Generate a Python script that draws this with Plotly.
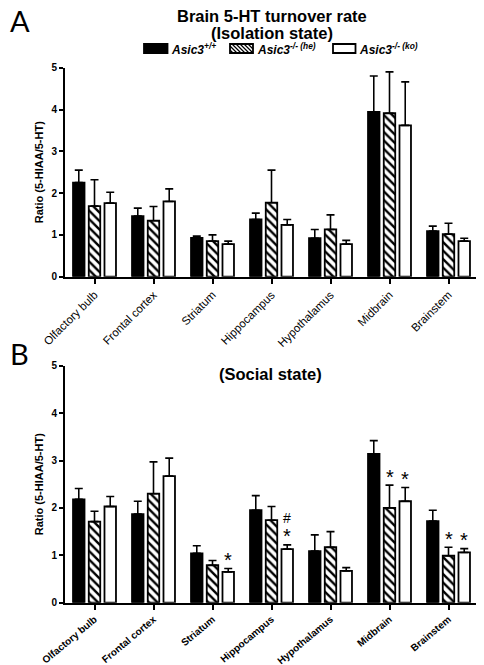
import plotly.graph_objects as go

regions = ["Olfactory bulb", "Frontal cortex", "Striatum", "Hippocampus",
           "Hypothalamus", "Midbrain", "Brainstem"]
genotypes = ["Asic3<sup>+/+</sup>", "Asic3<sup>-/- (he)</sup>", "Asic3<sup>-/- (ko)</sup>"]

# Panel A: isolation state
iso_wt = [2.25, 1.45, 0.93, 1.37, 0.92, 3.94, 1.09]
iso_wt_err = [0.30, 0.19, 0.04, 0.15, 0.21, 0.86, 0.12]
iso_he = [1.69, 1.34, 0.85, 1.77, 1.13, 3.91, 1.02]
iso_he_err = [0.63, 0.34, 0.15, 0.78, 0.35, 0.99, 0.26]
iso_ko = [1.76, 1.80, 0.78, 1.24, 0.78, 3.62, 0.85]
iso_ko_err = [0.26, 0.30, 0.07, 0.13, 0.09, 1.04, 0.07]

# Panel B: social state
soc_wt = [2.18, 1.87, 1.04, 1.95, 1.09, 3.14, 1.72]
soc_wt_err = [0.23, 0.27, 0.16, 0.31, 0.34, 0.28, 0.23]
soc_he = [1.71, 2.30, 0.79, 1.74, 1.17, 2.00, 0.99]
soc_he_err = [0.22, 0.67, 0.10, 0.29, 0.33, 0.48, 0.18]
soc_ko = [2.03, 2.67, 0.65, 1.13, 0.67, 2.14, 1.06]
soc_ko_err = [0.21, 0.38, 0.07, 0.09, 0.07, 0.29, 0.08]

# significance marks in panel B: (region index, genotype index, label)
sig_marks = [(2, 2, "*"), (3, 2, "*"), (3, 2, "#"), (5, 1, "*"), (5, 2, "*"),
             (6, 1, "*"), (6, 2, "*")]

OFF = 8                      # page body margin
W, H = 484 - OFF, 665 - OFF  # figure size
ARIAL = "Liberation Sans, Arial, sans-serif"

def py(p):  # window pixel y -> paper
    return 1 - (p - OFF) / H

def px(p):  # window pixel x -> paper
    return (p - OFF) / W

styles = [
    dict(color="black", pattern=dict(shape="")),
    dict(color="white", pattern=dict(shape="\\", fgcolor="black", bgcolor="white",
                                     size=6, solidity=0.4, fillmode="replace")),
    dict(color="white", pattern=dict(shape="")),
]

fig = go.Figure()
panels = [
    ("x", "y", [iso_wt, iso_he, iso_ko], [iso_wt_err, iso_he_err, iso_ko_err]),
    ("x2", "y2", [soc_wt, soc_he, soc_ko], [soc_wt_err, soc_he_err, soc_ko_err]),
]
for xa, ya, vals, errs in panels:
    for g in range(3):
        fig.add_trace(go.Bar(
            x=regions, y=vals[g], xaxis=xa, yaxis=ya, name=genotypes[g],
            showlegend=False,
            marker=dict(color=styles[g]["color"], pattern=styles[g]["pattern"],
                        line=dict(color="black", width=1.8)),
            error_y=dict(type="data", array=errs[g], arrayminus=[0] * len(regions),
                         symmetric=False, color="black", thickness=1.6, width=4),
        ))

bargap = 0.2
slot = (1 - bargap) / 3

common_x = dict(type="category", categoryorder="array", categoryarray=regions,
                range=[-0.5, 6.5], showline=True, linecolor="black", linewidth=2,
                ticks="outside", ticklen=5, tickwidth=1.8, tickcolor="black",
                showgrid=False, zeroline=False, automargin=False,
                domain=[px(65), px(478)])
common_y = dict(range=[0, 5], dtick=1, showline=True, linecolor="black", linewidth=2,
                ticks="outside", ticklen=4, tickwidth=1.8, tickcolor="black",
                showgrid=False, zeroline=False, automargin=False,
                tickfont=dict(family=ARIAL, size=10, color="black", weight="bold"),
                title=dict(text="<b>Ratio (5-HIAA/5-HT)</b>",
                           font=dict(family=ARIAL, size=11, color="black"), standoff=6))

fig.update_layout(
    width=W, height=H, margin=dict(l=0, r=0, t=0, b=0, autoexpand=False),
    plot_bgcolor="white", paper_bgcolor="white",
    barmode="group", bargap=bargap, bargroupgap=0.27, showlegend=False,
    xaxis=dict(common_x, anchor="y", tickangle=-45,
               tickfont=dict(family=ARIAL, size=11.5, color="black")),
    yaxis=dict(common_y, anchor="x", domain=[py(276.7), py(67.7)]),
    xaxis2=dict(common_x, anchor="y2", tickangle=-40,
                tickfont=dict(family=ARIAL, size=10, color="black", weight="bold")),
    yaxis2=dict(common_y, anchor="x2", domain=[py(602.7), py(365.7)]),
)

ann = []
# panel letters
ann.append(dict(text="A", x=px(8), y=py(20), xref="paper", yref="paper", xanchor="left",
                yanchor="middle", showarrow=False, font=dict(family="Lato", size=29, color="black")))
ann.append(dict(text="B", x=px(8), y=py(353), xref="paper", yref="paper", xanchor="left",
                yanchor="middle", showarrow=False, font=dict(family="Lato", size=29, color="black")))
# titles
ann.append(dict(text="<b>Brain 5-HT turnover rate</b>", x=px(272), y=py(16), xref="paper",
                yref="paper", yanchor="middle", showarrow=False,
                font=dict(family=ARIAL, size=16.5, color="black")))
ann.append(dict(text="<b>(Isolation state)</b>", x=px(272), y=py(33), xref="paper",
                yref="paper", yanchor="middle", showarrow=False,
                font=dict(family=ARIAL, size=16.5, color="black")))
ann.append(dict(text="<b>(Social state)</b>", x=px(270), y=py(374), xref="paper",
                yref="paper", yanchor="middle", showarrow=False,
                font=dict(family=ARIAL, size=16.5, color="black")))

# legend (drawn manually)
shapes = []
leg = [(144, 167.5, 169), (230, 253, 255), (333, 355.5, 357)]
y0, y1 = py(53), py(44)
for g, (x0, x1, tx) in enumerate(leg):
    fill = "black" if g == 0 else "white"
    shapes.append(dict(type="rect", xref="paper", yref="paper", x0=px(x0), x1=px(x1),
                       y0=y0, y1=y1, fillcolor=fill, line=dict(color="black", width=1.8)))
    if g == 1:
        k = x0 - 6
        while k < x1:
            a0, a1 = max(k, x0), min(k + 9, x1)
            ya0 = 44 + (a0 - k)
            ya1 = 44 + (a1 - k)
            shapes.append(dict(type="line", xref="paper", yref="paper",
                               x0=px(a0), x1=px(a1), y0=py(ya0), y1=py(ya1),
                               line=dict(color="black", width=1.3)))
            k += 4
    ann.append(dict(text="<b><i>" + genotypes[g] + "</i></b>", x=px(tx), y=py(49.5),
                    xref="paper", yref="paper", xanchor="left", yanchor="middle",
                    showarrow=False, font=dict(family=ARIAL, size=12, color="black")))

# significance marks
soc_vals = [soc_wt, soc_he, soc_ko]
soc_errs = [soc_wt_err, soc_he_err, soc_ko_err]
for r, g, lab in sig_marks:
    top = soc_vals[g][r] + soc_errs[g][r]
    yy = top + 0.18 if lab == "*" else top + 0.56
    ann.append(dict(text=lab, x=r + (g - 1) * slot, y=yy, xref="x2", yref="y2",
                    showarrow=False, yanchor="middle",
                    font=dict(family=ARIAL, size=20 if lab == "*" else 14, color="black")))

fig.update_layout(annotations=ann, shapes=shapes)
fig.write_html("out.html")
